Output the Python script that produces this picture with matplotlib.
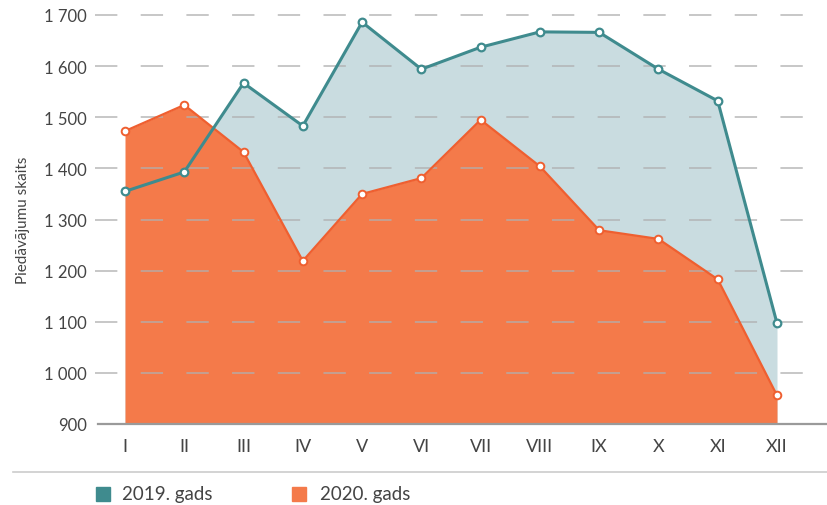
import matplotlib
matplotlib.use("Agg")
import matplotlib.pyplot as plt
from matplotlib.patches import Rectangle
from matplotlib.lines import Line2D

months = ["I", "II", "III", "IV", "V", "VI", "VII", "VIII", "IX", "X", "XI", "XII"]
y2019 = [1355, 1393, 1567, 1483, 1686, 1594, 1637, 1667, 1666, 1594, 1532, 1097]
y2020 = [1473, 1524, 1432, 1219, 1350, 1381, 1495, 1404, 1279, 1262, 1183, 956]
yticks = [900, 1000, 1100, 1200, 1300, 1400, 1500, 1600, 1700]
ytick_labels = ["900", "1 000", "1 100", "1 200", "1 300", "1 400", "1 500", "1 600", "1 700"]
series_names = ["2019. gads", "2020. gads"]
ylabel = "Piedāvājumu skaits"

teal = "#3f8b8e"
teal_fill = "#c9dce0"
orange = "#f47a4a"
orange_line = "#ef5f30"
text_col = "#444444"

plt.rcParams['font.family'] = ['Lato', 'DejaVu Sans']

W, H = 828, 506
fig = plt.figure(figsize=(W / 100, H / 100), dpi=100)
ax = fig.add_axes([98 / W, 1 - 425 / H, 730 / W, (425 - 16) / H])

x = list(range(len(months)))
ax.fill_between(x, y2019, 900, color=teal_fill, zorder=1, linewidth=0)
ax.fill_between(x, y2020, 900, color=orange, zorder=2, linewidth=0)

for yv in yticks[1:]:
    ax.add_line(Line2D([-0.5, 11.52], [yv, yv], color="#b0b0b0", alpha=0.7, lw=1.4,
                       dashes=(11.5, 12), zorder=3, clip_on=False))

ax.plot(x, y2020, color=orange_line, lw=1.6, zorder=4, marker="o", markersize=5.5,
        markerfacecolor="white", markeredgecolor=orange_line, markeredgewidth=1.4, clip_on=False)
ax.plot(x, y2019, color=teal, lw=2.2, zorder=5, marker="o", markersize=5.5,
        markerfacecolor="white", markeredgecolor=teal, markeredgewidth=1.6, clip_on=False)

unit = (777 - 125) / 11
ax.set_xlim(-(125 - 98) / unit, 11 + (828 - 777) / unit)
ax.set_ylim(900, 1700)
ax.set_xticks(x)
ax.set_xticklabels(months)
ax.set_yticks(yticks)
ax.set_yticklabels(ytick_labels)
ax.tick_params(axis="both", length=0, colors=text_col)
ax.tick_params(axis="x", pad=10, labelsize=13)
ax.tick_params(axis="y", pad=8, labelsize=12)
for s in ["top", "right", "left"]:
    ax.spines[s].set_visible(False)
ax.spines["bottom"].set_color("#9a9a9a")
ax.spines["bottom"].set_linewidth(1.6)
ax.spines["bottom"].set_zorder(6)
ax.set_ylabel(ylabel, fontsize=11, color=text_col)
ax.yaxis.set_label_coords(-(98 - 30) / 730, 0.5)

# separator line
fig.add_artist(Line2D([13 / W, 1], [1 - 473 / H, 1 - 473 / H], color="#cccccc", lw=1.2))

# legend
leg_items = [(96, 122, teal), (292, 320, orange)]
for (sx, tx, c), name in zip(leg_items, series_names):
    fig.add_artist(Rectangle((sx / W, 1 - 502 / H), 14 / W, 14 / H, color=c, transform=fig.transFigure))
    fig.text(tx / W, 1 - 495 / H, name, fontsize=13.5, color=text_col, va="center", ha="left")

fig.savefig("out.png", dpi=100)
